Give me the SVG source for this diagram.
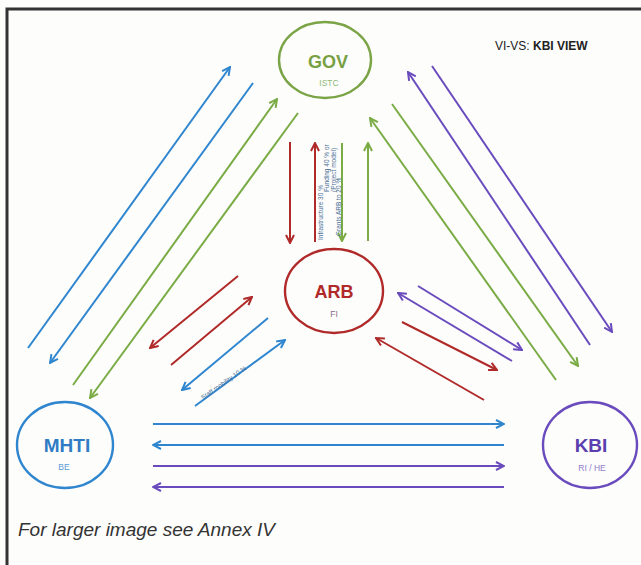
<svg xmlns="http://www.w3.org/2000/svg" width="641" height="565" viewBox="0 0 641 565">
  <style>
    .lnk { fill: none; stroke-width: 2; }
    .blue { stroke: #2f86cf; }
    .green { stroke: #7aab45; }
    .red { stroke: #b02a2a; }
    .purple { stroke: #6a4bbd; }
    .node { fill: none; stroke-width: 2.4; }
    .title { font-family: "Liberation Sans", Arial, sans-serif; font-weight: bold; text-anchor: middle; }
    .sub { font-family: "Liberation Sans", Arial, sans-serif; text-anchor: middle; font-size: 8.5px; }
    .tiny { font-family: "Liberation Sans", Arial, sans-serif; font-size: 6.5px; fill: #4a6f96; }
  </style>
  <defs>
    <marker id="ahBlue" viewBox="0 0 10 10" refX="9" refY="5" markerWidth="10" markerHeight="10" markerUnits="userSpaceOnUse" orient="auto">
      <path d="M1,1 L9,5 L1,9" fill="none" stroke="#2f86cf" stroke-width="2"/>
    </marker>
    <marker id="ahGreen" viewBox="0 0 10 10" refX="9" refY="5" markerWidth="10" markerHeight="10" markerUnits="userSpaceOnUse" orient="auto">
      <path d="M1,1 L9,5 L1,9" fill="none" stroke="#7aab45" stroke-width="2"/>
    </marker>
    <marker id="ahRed" viewBox="0 0 10 10" refX="9" refY="5" markerWidth="10" markerHeight="10" markerUnits="userSpaceOnUse" orient="auto">
      <path d="M1,1 L9,5 L1,9" fill="none" stroke="#b02a2a" stroke-width="2"/>
    </marker>
    <marker id="ahPurple" viewBox="0 0 10 10" refX="9" refY="5" markerWidth="10" markerHeight="10" markerUnits="userSpaceOnUse" orient="auto">
      <path d="M1,1 L9,5 L1,9" fill="none" stroke="#6a4bbd" stroke-width="2"/>
    </marker>
  </defs>

  <rect width="641" height="565" fill="#fdfdfc"/>
  <!-- frame -->
  <path d="M7,565 L7,9 L641,9" fill="none" stroke="#333" stroke-width="3"/>

  <text x="495" y="50" font-family="'Liberation Sans', Arial, sans-serif" font-size="12" fill="#222">VI-VS: <tspan font-weight="bold">KBI VIEW</tspan></text>

  <g id="connectors">
    <!-- GOV / MHTI -->
    <line class="lnk blue" x1="28" y1="348" x2="230" y2="67" marker-end="url(#ahBlue)"/>
    <line class="lnk blue" x1="253" y1="83" x2="50" y2="363" marker-end="url(#ahBlue)"/>
    <line class="lnk green" x1="73" y1="385" x2="277" y2="99" marker-end="url(#ahGreen)"/>
    <line class="lnk green" x1="298" y1="113" x2="90" y2="398" marker-end="url(#ahGreen)"/>

    <!-- GOV / ARB -->
    <line class="lnk red" x1="290" y1="142" x2="290" y2="243" marker-end="url(#ahRed)"/>
    <line class="lnk red" x1="315" y1="242" x2="315" y2="143" marker-end="url(#ahRed)"/>
    <line class="lnk green" x1="342" y1="143" x2="342" y2="241" marker-end="url(#ahGreen)"/>
    <line class="lnk green" x1="368" y1="241" x2="368" y2="143" marker-end="url(#ahGreen)"/>

    <!-- ARB / MHTI -->
    <line class="lnk red" x1="238" y1="276" x2="150" y2="348" marker-end="url(#ahRed)"/>
    <line class="lnk red" x1="171" y1="365" x2="252" y2="297" marker-end="url(#ahRed)"/>
    <line class="lnk blue" x1="268" y1="318" x2="182" y2="390" marker-end="url(#ahBlue)"/>
    <line class="lnk blue" x1="195" y1="406" x2="285" y2="340" marker-end="url(#ahBlue)"/>

    <!-- GOV / KBI -->
    <line class="lnk purple" x1="432" y1="66" x2="612" y2="332" marker-end="url(#ahPurple)"/>
    <line class="lnk purple" x1="590" y1="345" x2="408" y2="72" marker-end="url(#ahPurple)"/>
    <line class="lnk green" x1="392" y1="104" x2="578" y2="366" marker-end="url(#ahGreen)"/>
    <line class="lnk green" x1="556" y1="380" x2="370" y2="118" marker-end="url(#ahGreen)"/>

    <!-- ARB / KBI -->
    <line class="lnk purple" x1="418" y1="286" x2="522" y2="350" marker-end="url(#ahPurple)"/>
    <line class="lnk purple" x1="512" y1="361" x2="398" y2="293" marker-end="url(#ahPurple)"/>
    <line class="lnk red" x1="402" y1="322" x2="497" y2="370" marker-end="url(#ahRed)"/>
    <line class="lnk red" x1="484" y1="400" x2="376" y2="338" marker-end="url(#ahRed)"/>

    <!-- MHTI / KBI -->
    <line class="lnk blue" x1="153" y1="424" x2="504" y2="424" marker-end="url(#ahBlue)"/>
    <line class="lnk blue" x1="504" y1="445" x2="153" y2="445" marker-end="url(#ahBlue)"/>
    <line class="lnk purple" x1="153" y1="466" x2="504" y2="466" marker-end="url(#ahPurple)"/>
    <line class="lnk purple" x1="504" y1="487" x2="153" y2="487" marker-end="url(#ahPurple)"/>

    <!-- flow notes, read bottom to top -->
    <text class="tiny" transform="translate(323,240) rotate(-90)">Infrastructure 30 %</text>
    <text class="tiny" transform="translate(329,192) rotate(-90)">Funding 40 % or</text>
    <text class="tiny" transform="translate(336,192) rotate(-90)">(Project model)</text>
    <text class="tiny" transform="translate(341,236) rotate(-90)">Grants ARB to 20 %</text>
    <text class="tiny" transform="translate(203,400) rotate(-35)">Staff mobility 10 %</text>
  </g>

  <g id="gov">
    <ellipse class="node" cx="325" cy="60" rx="46" ry="38" stroke="#7aa445"/>
    <text class="title" x="328" y="68" font-size="18" fill="#77a043">GOV</text>
    <text class="sub" x="329" y="86" fill="#8fb877">ISTC</text>
  </g>

  <g id="arb">
    <ellipse class="node" cx="334" cy="291" rx="49" ry="42" stroke="#b02a2a"/>
    <text class="title" x="334" y="298" font-size="18" fill="#b02a2a">ARB</text>
    <text class="sub" x="334" y="317" fill="#8a6a8a">FI</text>
  </g>

  <g id="mhti">
    <ellipse class="node" cx="65" cy="445" rx="48" ry="43" stroke="#2f86cf"/>
    <text class="title" x="67" y="452" font-size="19" fill="#2f7cc4">MHTI</text>
    <text class="sub" x="64" y="470" fill="#5a9ad6">BE</text>
  </g>

  <g id="kbi">
    <ellipse class="node" cx="590" cy="445" rx="47" ry="43" stroke="#6a4bbd"/>
    <text class="title" x="591" y="452" font-size="19" fill="#5c3fae">KBI</text>
    <text class="sub" x="592" y="471" fill="#8f7acb">RI / HE</text>
  </g>

  <text x="18" y="536" font-family="'Liberation Sans', Arial, sans-serif" font-style="italic" font-size="19" fill="#333">For larger image see Annex IV</text>
</svg>
